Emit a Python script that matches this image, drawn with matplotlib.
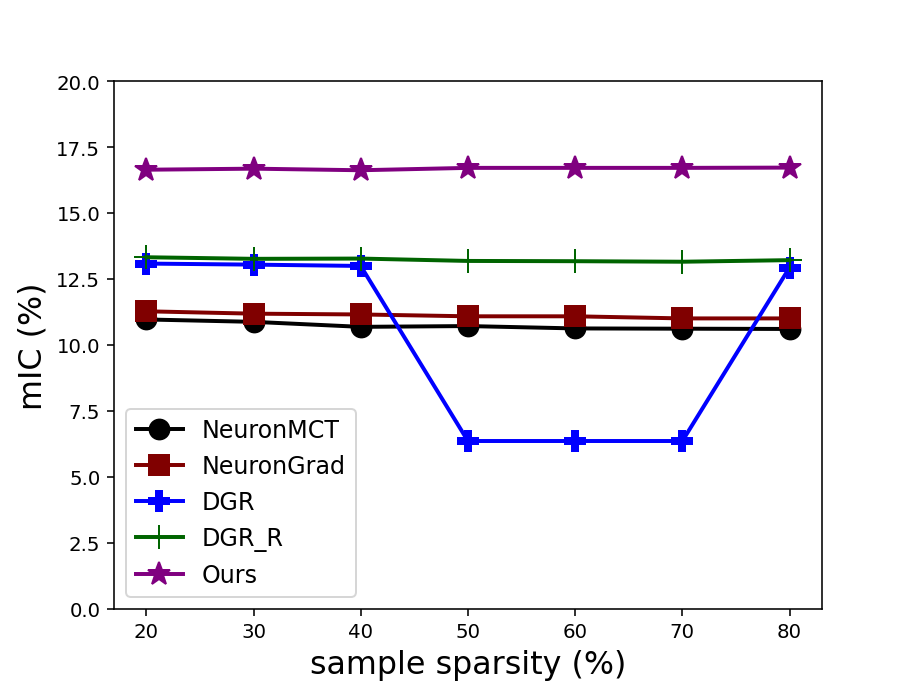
import numpy as np
import matplotlib
matplotlib.use("Agg")
import matplotlib.pyplot as plt

sparsity = [20, 30, 40, 50, 60, 70, 80]
neuron_mct = [10.97, 10.88, 10.69, 10.72, 10.63, 10.62, 10.61]
neuron_grad = [11.28, 11.19, 11.16, 11.09, 11.09, 11.01, 11.01]
dgr = [13.09, 13.05, 13.00, 6.36, 6.36, 6.36, 12.94]
dgr_r = [13.33, 13.27, 13.28, 13.19, 13.18, 13.16, 13.22]
ours = [16.65, 16.69, 16.63, 16.72, 16.72, 16.72, 16.73]

fig, ax = plt.subplots(figsize=(6.4, 4.8), dpi=142.66)
ax.plot(sparsity, neuron_mct, color="black", marker="o", markersize=10, linewidth=2, label="NeuronMCT")
ax.plot(sparsity, neuron_grad, color="maroon", marker="s", markersize=10, linewidth=2, label="NeuronGrad")
ax.plot(sparsity, dgr, color="blue", marker="P", markersize=10, linewidth=2, label="DGR")
ax.plot(sparsity, dgr_r, color="darkgreen", marker="+", markersize=12, linewidth=2, label="DGR_R")
ax.plot(sparsity, ours, color="purple", marker="*", markersize=12, linewidth=2, label="Ours")

ax.set_ylim(0, 20)
ax.set_yticks(np.arange(0, 20.1, 2.5))
ax.set_xticks(sparsity)
ax.set_xlabel("sample sparsity (%)", fontsize=16)
ax.set_ylabel("mIC (%)", fontsize=16)
ax.legend(loc="lower left", fontsize=12)

fig.savefig("out.png")
